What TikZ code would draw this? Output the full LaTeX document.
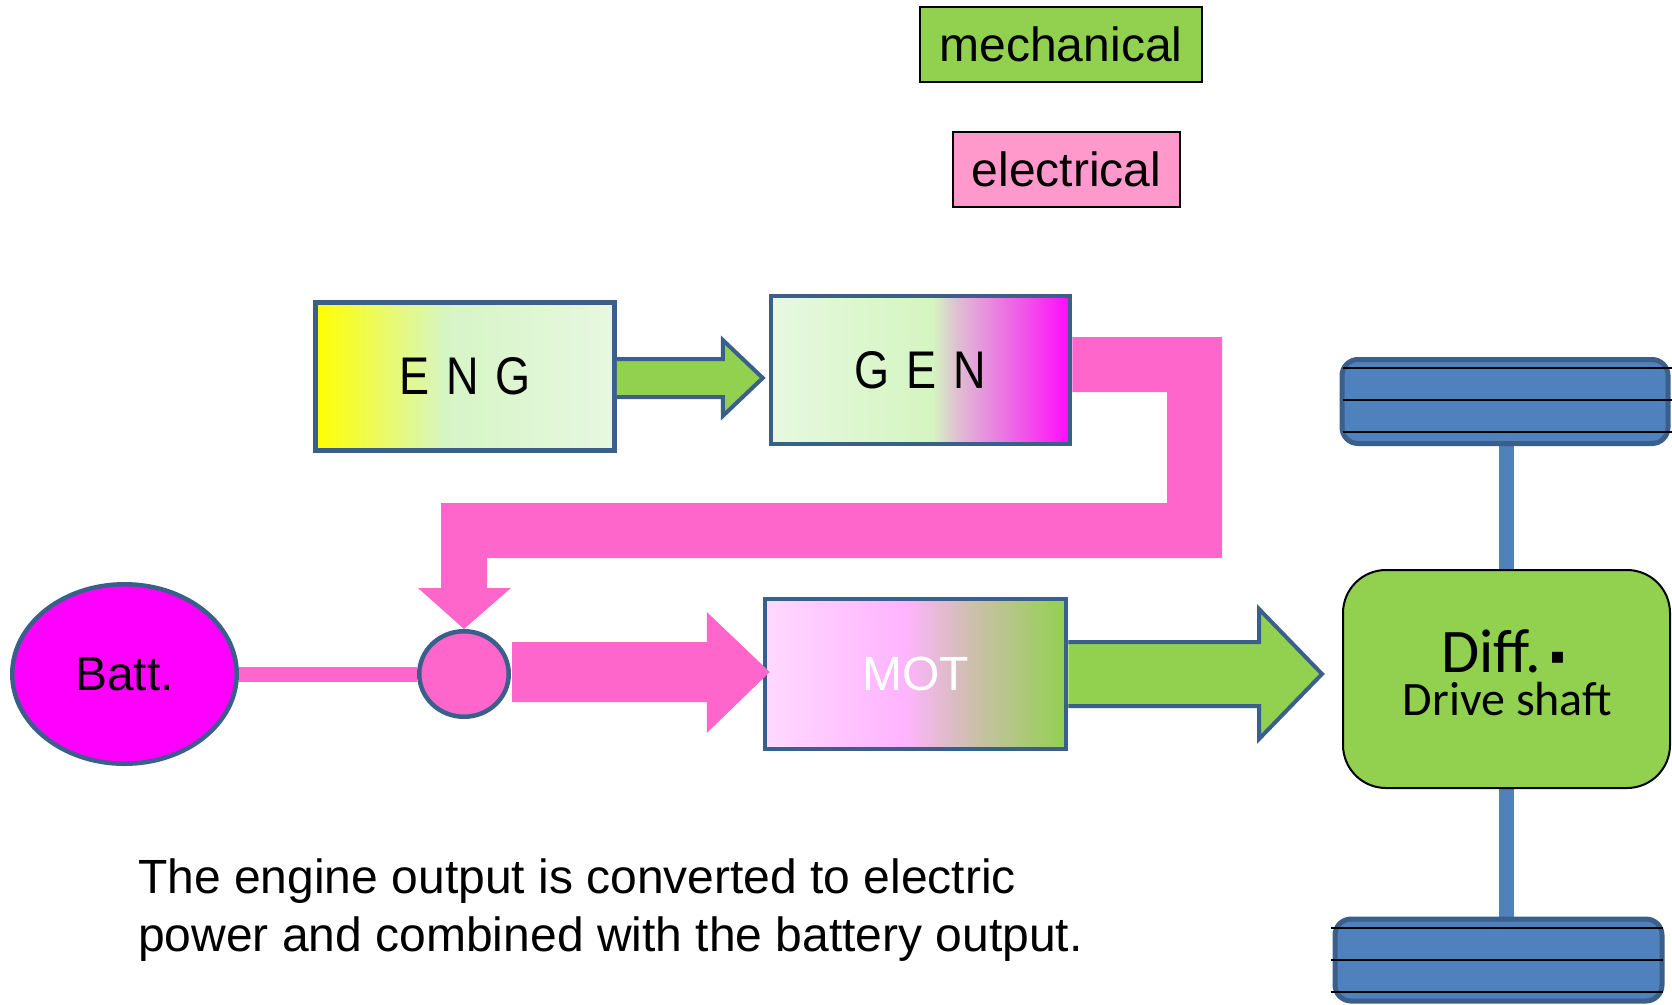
\documentclass[tikz,border=0pt]{standalone}
\usepackage{fontspec}
\setmainfont{Liberation Sans}
\newfontfamily\carl{Carlito}
\newfontfamily\narrowsans{Liberation Sans}[FakeStretch=0.85]
\newfontfamily\dejavu{DejaVu Sans}
\usetikzlibrary{calc,backgrounds,shapes.geometric}

\definecolor{mechgreen}{RGB}{146,208,80}
\definecolor{elecpink}{RGB}{255,153,204}
\definecolor{bandpink}{RGB}{255,102,204}
\definecolor{edgeblue}{RGB}{58,95,139}
\definecolor{wheelblue}{RGB}{79,129,189}
\definecolor{battmag}{RGB}{255,0,255}
\definecolor{engA}{RGB}{255,255,0}
\definecolor{engB}{RGB}{214,245,198}
\definecolor{engC}{RGB}{231,248,224}
\definecolor{genB}{RGB}{212,245,192}
\definecolor{genC}{RGB}{222,192,210}
\definecolor{genD}{RGB}{255,10,250}
\definecolor{motA}{RGB}{255,217,255}
\definecolor{motB}{RGB}{255,180,255}
\definecolor{motC}{RGB}{202,192,168}

\pgfdeclarehorizontalshading{engshade}{100bp}{color(0bp)=(engA); color(25bp)=(engA); color(47bp)=(engB); color(75bp)=(engC); color(100bp)=(engC)}
\pgfdeclarehorizontalshading{genshade}{100bp}{color(0bp)=(engC); color(25bp)=(engC); color(52bp)=(genB); color(56bp)=(genC); color(75bp)=(genD); color(100bp)=(genD)}
\pgfdeclarehorizontalshading{motshade}{100bp}{color(0bp)=(motA); color(25bp)=(motA); color(48bp)=(motB); color(60bp)=(motC); color(75bp)=(mechgreen); color(100bp)=(mechgreen)}

\newcommand{\spaced}[3]{#1\hspace{17pt}#2\hspace{17pt}#3}

\begin{document}
\begin{tikzpicture}[x=1pt,y=-1pt,
  legend/.style={draw=black, line width=2pt, inner sep=0pt, minimum height=75pt,
    font=\fontsize{48}{56}\selectfont},
  unit/.style={draw=edgeblue, line width=4.5pt, minimum width=299pt, minimum height=148pt,
    inner sep=0pt, font=\narrowsans\fontsize{53}{60}\selectfont},
  wheel/.style={draw=edgeblue, fill=wheelblue, line width=5pt, rounded corners=16pt, inner sep=0pt},
  blockarrow/.style={draw=edgeblue, fill=mechgreen, line width=4pt, line join=miter},
  axle/.style={draw=wheelblue, line width=15pt},
  tread/.style={draw=black, line width=2pt},
  notetext/.style={anchor=base west, inner sep=0pt, font=\fontsize{48}{56}\selectfont}]

\useasboundingbox (0,0) rectangle (1672,1004);

% legend
\node[legend, fill=mechgreen, minimum width=282pt] (mech) at (1061,44.5) {mechanical};
\node[legend, fill=elecpink, minimum width=227pt] (elec) at (1066.5,169.5) {electrical};

% units
\node[unit, shade, shading=engshade] (eng) at (465,376.5) {\spaced ENG};
\node[unit, shade, shading=genshade] (gen) at (920.5,370) {\spaced GEN};
\node[unit, shade, shading=motshade, minimum width=301pt, minimum height=150pt,
  text=white, font=\fontsize{48}{56}\selectfont] (mot) at (915.5,674) {MOT};

\node[ellipse, draw=edgeblue, fill=battmag, line width=4.5pt, minimum width=224.5pt,
  minimum height=179.5pt, inner sep=0pt, font=\fontsize{48}{54}\selectfont] (batt) at (124.5,674) {Batt.};
\node[ellipse, draw=edgeblue, fill=bandpink, line width=4.5pt, minimum width=89.5pt,
  minimum height=85.5pt, inner sep=0pt] (junc) at (464,674) {};

% differential and wheels
\node[draw=black, line width=2pt, fill=mechgreen, rounded corners=43pt, minimum width=327pt,
  minimum height=218pt, inner sep=0pt] (diff) at (1506.5,679) {};
\node[anchor=base, inner sep=0pt, text depth=0pt, font=\carl\fontsize{62}{70}\selectfont] (difft) at (1503,672)
  {Diff.\hspace{9pt}{\dejavu\fontsize{22}{22}\selectfont\raisebox{9pt}{▪}}};
\node[anchor=base, inner sep=0pt, text height=30pt, text depth=0pt, font=\carl\fontsize{48}{52}\selectfont] (drive) at (1507.5,715) {Drive shaft};

\node[wheel, minimum width=326pt, minimum height=84pt] (wtop) at (1505,401.5) {};
\node[wheel, minimum width=327pt, minimum height=82pt] (wbot) at (1498.5,960) {};
\foreach \dy in {-33.5,-1.5,30.5}
  \draw[tread] ($(wtop.west)+(3,\dy)$) -- ($(wtop.east)+(4,\dy)$);
\foreach \dy in {-32,0,32}
  \draw[tread] ($(wbot.west)+(-2,\dy)$) -- ($(wbot.east)+(-2,\dy)$);

\begin{scope}[on background layer]
  \draw[axle] (diff.north) -- (diff.north |- wtop.south);
  \draw[axle] (diff.south) -- (diff.south |- wbot.north);
  \fill[bandpink] ($(gen.east)+(0,-33)$) -- (1222,337) -- (1222,558) -- (487,558) -- (487,588)
    -- (511,588) -- (junc.north) -- (418,588) -- (441,588) -- (441,503) -- (1167,503)
    -- (1167,392) -- ($(gen.east)+(0,22)$) -- cycle;
  \draw[line width=15pt, bandpink] (batt.east) -- (junc.west);
\end{scope}

% electrical arrow into motor
\fill[bandpink] ($(junc.east)+(1,-32)$) -- ($(mot.west)+(-56,-32)$) -- ($(mot.west)+(-56,-62)$)
  -- ($(mot.west)+(7,-2)$) -- ($(mot.west)+(-56,59)$) -- ($(mot.west)+(-56,28)$)
  -- ($(junc.east)+(1,28)$) -- cycle;

% mechanical arrows
\draw[blockarrow] ($(eng.east)+(0,-17.5)$) -- ($(gen.west)+(-46,-11)$) -- ($(gen.west)+(-46,-30)$)
  -- ($(gen.west)+(-6,8)$) -- ($(gen.west)+(-46,46)$) -- ($(gen.west)+(-46,27)$)
  -- ($(eng.east)+(0,20.5)$);
\draw[blockarrow] ($(mot.east)+(0,-32)$) -- ($(diff.west)+(-83,-37)$) -- ($(diff.west)+(-83,-70)$)
  -- ($(diff.west)+(-20,-5)$) -- ($(diff.west)+(-83,60)$) -- ($(diff.west)+(-83,27)$)
  -- ($(mot.east)+(0,32)$);

% note
\node[notetext] (note1) at (138,893.5) {The engine output is converted to electric};
\node[notetext] (note2) at (138,951) {power and combined with the battery output.};
\end{tikzpicture}
\end{document}
